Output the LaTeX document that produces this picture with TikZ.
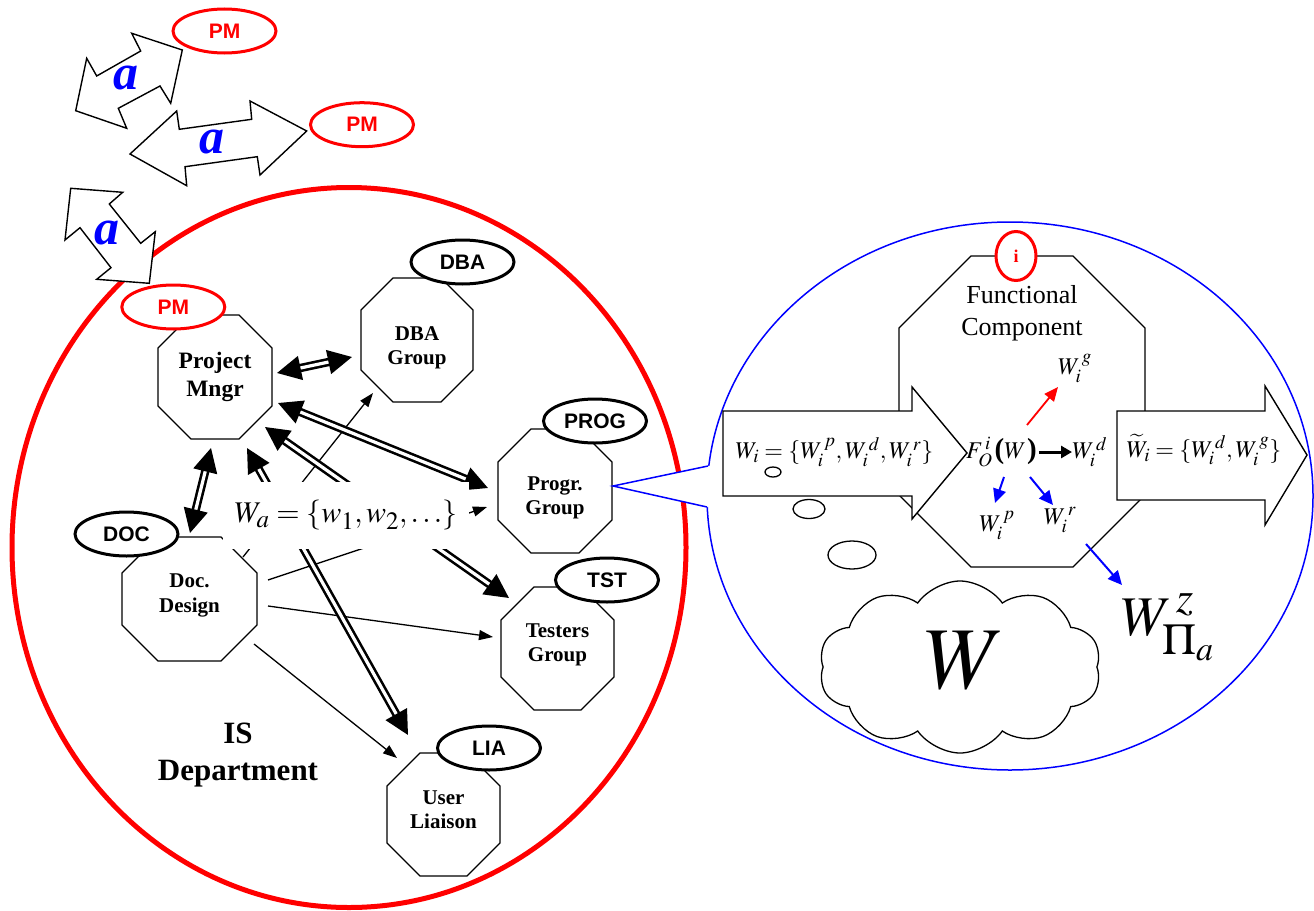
\documentclass[tikz,border=0pt]{standalone}
\usepackage{mathptmx}
\usepackage[no-math]{fontspec}
\setmainfont{Liberation Serif}
\setsansfont{Liberation Sans}
\usetikzlibrary{arrows.meta,shapes.geometric,shapes.symbols,calc}

\definecolor{pmred}{RGB}{255,0,0}
\definecolor{netblue}{RGB}{0,0,255}

% large scripts, as in the equation editor
\DeclareMathSizes{24}{24}{19}{15}
\DeclareMathSizes{30}{30}{25}{20}
\DeclareMathSizes{56}{56}{44}{34}

\newcommand\octfont{\fontsize{21}{24.5}\selectfont\rmfamily\bfseries}
\newcommand\octbigfont{\fontsize{23.5}{28}\selectfont\rmfamily\bfseries}
\newcommand\funcfont{\fontsize{26}{32}\selectfont\rmfamily\mdseries}
\newcommand\tagfont{\sffamily\bfseries\fontsize{21}{24}\selectfont}
\newcommand\mathfont{\fontsize{24}{28}\selectfont}
\newcommand\bparen[1]{\mbox{\fontsize{29}{30}\selectfont\rmfamily\bfseries #1}}

% octagon around a named box: name, x, y, width, height, chamfer, label shift, label keys, label
\newcommand\octagonnode[9]{%
  \node[octbox, minimum width=#4pt, minimum height=#5pt] (#1) at (#2,#3) {};
  \draw[octline] ($(#1.north west)+(#6,0)$) -- ($(#1.north east)+(-#6,0)$)
     -- ($(#1.north east)+(0,#6)$) -- ($(#1.south east)+(0,-#6)$)
     -- ($(#1.south east)+(-#6,0)$) -- ($(#1.south west)+(#6,0)$)
     -- ($(#1.south west)+(0,-#6)$) -- ($(#1.north west)+(0,#6)$) -- cycle;
  \node[octtext, #8] (#1-label) at ($(#2,#3)+(0,#7)$) {#9};
}

\begin{document}
\begin{tikzpicture}[x=1pt, y=-1pt,
  octbox/.style={rectangle, draw=none, inner sep=0pt, outer sep=0pt},
  octline/.style={draw=black, line width=1.3pt, fill=white},
  octtext/.style={align=center, inner sep=0pt, font=\octfont},
  tagbox/.style={ellipse, draw=black, line width=3pt, fill=white, inner sep=0pt,
                 minimum width=103pt, minimum height=44pt, font=\tagfont},
  tagred/.style={tagbox, draw=pmred, text=pmred},
  dblarrow/.style={draw=black, double=white, double distance=3.2pt, line width=2.6pt,
                   {Triangle[length=24pt,width=24pt]}-{Triangle[length=24pt,width=24pt]}},
  thinarrow/.style={draw=black, line width=1.3pt, -{Triangle[length=14pt,width=10pt]}},
  blockarrow/.style={draw=black, line width=1.4pt, fill=white, line join=miter},
  aletter/.style={text=netblue, inner sep=0pt, font=\fontsize{50}{50}\selectfont\rmfamily\bfseries\itshape},
  mathtext/.style={inner sep=0pt, font=\mathfont},
  redarr/.style={draw=pmred, line width=1.8pt, -{Triangle[length=14pt,width=12pt]}},
  bluearr/.style={draw=netblue, line width=2pt, -{Triangle[length=14pt,width=13pt]}},
  bubble/.style={ellipse, draw=black, line width=1.3pt, fill=white, inner sep=0pt}
]
\useasboundingbox (0,0) rectangle (1314,910);

% department and component boundaries
\draw[pmred, line width=5pt] (349,547.5) ellipse [x radius=337, y radius=360];
\draw[netblue, line width=1.5pt] (1010,496) ellipse [x radius=303, y radius=274];

% groups of the IS department
\octagonnode{pmg}{215}{377}{114}{124}{33}{0}{font=\octbigfont}{Project\\Mngr}
\octagonnode{dba}{417}{340}{112}{124}{32}{8}{}{DBA\\Group}
\octagonnode{prog}{555}{491}{114}{124}{33}{7}{}{Progr.\\Group}
\octagonnode{tst}{557.5}{648.5}{113}{123}{33}{-3.5}{}{Testers\\Group}
\octagonnode{doc}{189.5}{599}{135}{124}{36}{-3.5}{}{Doc.\\Design}
\octagonnode{lia}{443.5}{814.5}{113}{123}{33}{-5}{}{User\\Liaison}

% documentation flows
\draw[thinarrow] ($(doc.north east)+(-14,20)$) -- ($(dba.south west)+(12,-9)$);
\draw[thinarrow] ($(doc.east)+(11,-19)$) -- ($(prog.west)+(-11,16)$);
\draw[thinarrow] ($(doc.east)+(11,7)$) -- ($(tst.west)+(-8,-11.5)$);
\draw[thinarrow] ($(doc.south east)+(-3,-17)$) -- ($(lia.north west)+(10,5)$);

% management links
\draw[dblarrow] ($(pmg.east)+(5,-4)$) -- ($(dba.west)+(-9,17)$);
\draw[dblarrow] ($(pmg.east)+(6,26)$) -- ($(prog.west)+(-10,-3)$);
\draw[dblarrow] ($(pmg.south)+(-4,9)$) -- ($(doc.north)+(0.5,-4)$);
\draw[dblarrow] ($(pmg.south)+(32,9)$) -- ($(lia.north west)+(21,-18)$);
\draw[dblarrow] ($(pmg.south east)+(-7,-12)$) -- ($(tst.north west)+(8,11)$);

% shared artefacts
\node[fill=white, minimum width=246pt, minimum height=67pt, inner sep=0pt,
      font=\fontsize{30}{34}\selectfont] (wa) at (346,515.5) {$W_a = \{w_1, w_2, \ldots\}$};

% role tags
\node[tagred] (pmtag) at (173.3,307) {PM};
\node[tagbox] (dbatag) at (462.5,262) {DBA};
\node[tagbox] (progtag) at (595,421) {PROG};
\node[tagbox] (tsttag) at (607,580) {TST};
\node[tagbox] (doctag) at (126.5,534) {DOC};
\node[tagbox] (liatag) at (489,748) {LIA};

\node[font=\fontsize{31}{37}\selectfont\rmfamily\bfseries, align=center, inner sep=0pt] (isdept) at (238,755) {IS\\Department};

% links to other project managers
\node[tagred] (pmone) at (224.5,31) {PM};
\node[tagred] (pmtwo) at (362,124.7) {PM};
\draw[blockarrow] (182.3,50) -- (170.7,103.3) -- (160,86) -- (118.3,108.3) -- (126.7,128.3)
  -- (75.7,110.7) -- (86.7,58.3) -- (96.7,76) -- (140.7,51) -- (131.7,33.3) -- cycle;
\node[aletter] (aone) at (126,78) {a};
\draw[blockarrow] (130,154) -- (176.7,111) -- (179.3,129.3) -- (251.7,119.3) -- (250,101)
  -- (306.7,131) -- (260,175) -- (257.3,156.7) -- (185,166.7) -- (186.7,185.7) -- cycle;
\node[aletter] (atwo) at (211.7,142) {a};
\draw[blockarrow] (70.7,188.3) -- (122.7,192.3) -- (109.3,204) -- (140.7,243.3) -- (155.3,231.7)
  -- (149.3,283.3) -- (96.7,279.3) -- (111,267.7) -- (80,227.7) -- (65,240) -- cycle;
\node[aletter] (athree) at (106.7,233.3) {a};

% callout from the programming group
\coordinate (calltop) at (708,466);
\coordinate (callbot) at (707,507);
\fill[white] ($(prog.east)+(1,-5)$) -- (calltop) -- (716,465.5) -- (716,507.5) -- (callbot) -- cycle;
\draw[netblue, line width=1.5pt] (calltop) -- ($(prog.east)+(1,-5)$) -- (callbot);

% functional component
\octagonnode{func}{1022}{411.5}{246}{311}{72}{-98.5}{font=\funcfont}{Functional\\Component}
\node[tagred, minimum width=40pt, minimum height=49pt, font=\fontsize{18}{20}\selectfont\rmfamily\bfseries] (itag) at (1016,256) {i};

\draw[blockarrow] (723,411) -- (912,411) -- (912,387) -- (967,453) -- (912,519) -- (912,496) -- (723,496) -- cycle;
\draw[blockarrow] (1117,411) -- (1265,411) -- (1265,386) -- (1307,455) -- (1265,525) -- (1265,500) -- (1117,500) -- cycle;

\node[mathtext] (wi) at (834.5,452) {$W_i = \{W_i^{\,p}, W_i^{\,d}, W_i^{\,r}\}$};
\node[mathtext, anchor=west] (fo) at (966,452) {$F_O^{\,i}$\kern2pt\bparen{(}$W$\kern1pt\bparen{)}};
\node[mathtext, anchor=west] (wd) at (1072,452) {$W_i^{\,d}$};
\node[mathtext] (wg) at (1075,368) {$W_i^{\,g}$};
\node[mathtext] (wp) at (997,525) {$W_i^{\,p}$};
\node[mathtext] (wr) at (1060,520) {$W_i^{\,r}$};
\node[mathtext] (wt) at (1204,450) {$\widetilde{W}_i = \{W_i^{\,d}, W_i^{\,g}\}$};

\draw[line width=3pt, -{Triangle[length=11pt,width=12pt]}] ($(fo.east)+(2,0)$) -- (fo.east -| wd.west);
\draw[redarr] ($(fo.west)+(61,-27)$) -- ($(wg.center)+(-17,19)$);
\draw[bluearr] ($(fo.west)+(38,25)$) -- ($(wp.center)+(-2,-22)$);
\draw[bluearr] ($(fo.west)+(64,25)$) -- ($(wr.center)+(-7,-15)$);

% thought bubbles and the environment
\node[bubble, minimum width=16pt, minimum height=10pt] (bubone) at (773,472) {};
\node[bubble, minimum width=32pt, minimum height=19pt] (bubtwo) at (809,509) {};
\node[bubble, minimum width=48pt, minimum height=28pt] (bubthree) at (852,555) {};

\node[cloud, draw=black, line width=1.3pt, cloud puffs=10, cloud puff arc=110, cloud ignores aspect,
      minimum width=282pt, minimum height=172pt, inner sep=0pt] (world) at (960,667) {};
\node[inner sep=0pt, font=\fontsize{88}{90}\selectfont] (bigw) at (965,661) {$W$};

\node[anchor=base west, inner sep=0pt, font=\fontsize{56}{60}\selectfont] (wpi) at (1121,635) {$W^{\,z}_{\Pi_a}$};
\draw[bluearr] ($(wr.center)+(26,24)$) -- ($(wpi.base west)+(1,-50)$);
\end{tikzpicture}
\end{document}
